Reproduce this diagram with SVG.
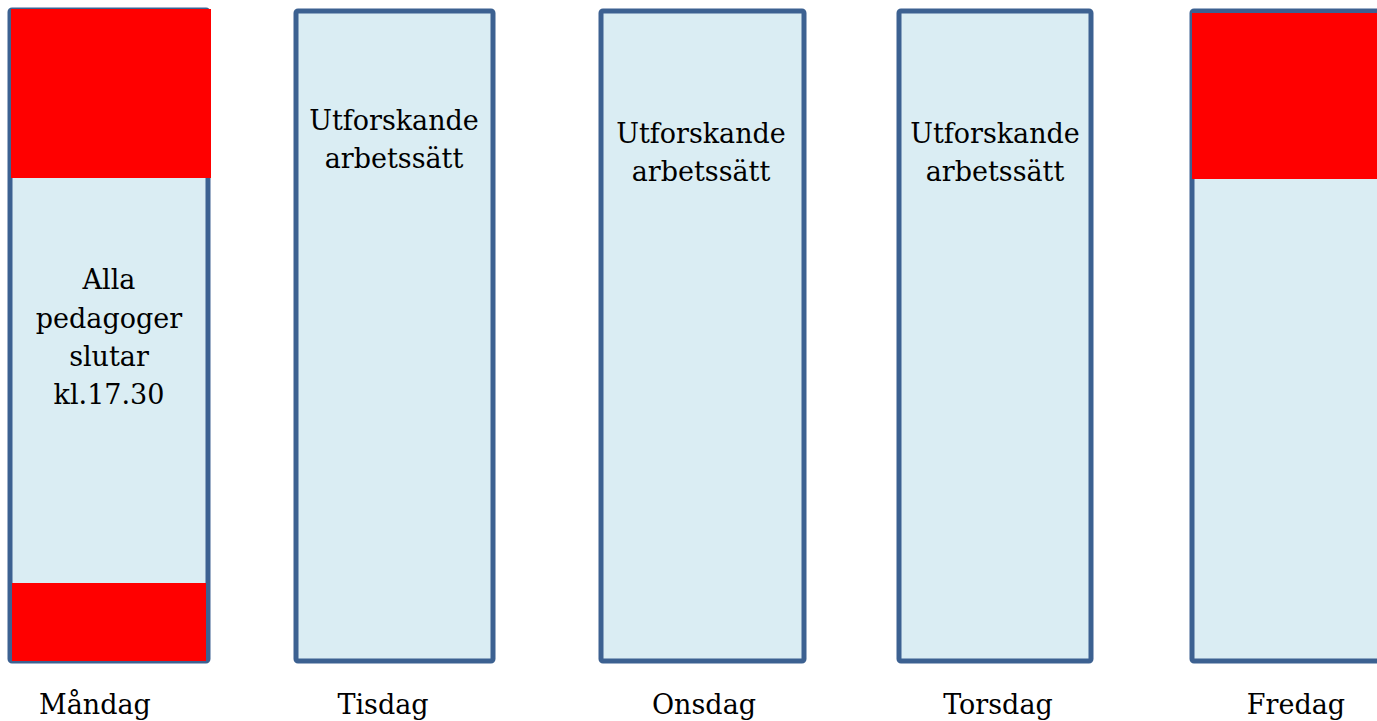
<svg xmlns="http://www.w3.org/2000/svg" width="1377" height="721" viewBox="0 0 1377 721">
<style>
.box{fill:#daedf3;stroke:#3c6191;stroke-width:5}
.red{fill:#ff0000}
text{font-family:"DejaVu Serif","Liberation Serif",serif;font-size:27px;fill:#000;text-anchor:middle}
</style>
<rect width="1377" height="721" fill="#fff"/>
<g id="mandag">
<rect class="box" x="10" y="10" width="198" height="651" rx="2"/>
<rect class="red" x="11" y="9" width="200" height="169"/>
<rect class="red" x="12" y="583" width="194" height="78"/>
<text x="109" y="289">Alla</text>
<text x="109" y="328">pedagoger</text>
<text x="109" y="366">slutar</text>
<text x="109" y="404">kl.17.30</text>
<text x="95" y="714">Måndag</text>
</g>
<g id="tisdag">
<rect class="box" x="296" y="11" width="197" height="650" rx="2"/>
<text x="394" y="130">Utforskande</text>
<text x="394" y="168">arbetssätt</text>
<text x="383" y="714">Tisdag</text>
</g>
<g id="onsdag">
<rect class="box" x="601" y="11" width="203" height="650" rx="2"/>
<text x="701" y="143">Utforskande</text>
<text x="701" y="181">arbetssätt</text>
<text x="704" y="714">Onsdag</text>
</g>
<g id="torsdag">
<rect class="box" x="899" y="11" width="192" height="650" rx="2"/>
<text x="995" y="143">Utforskande</text>
<text x="995" y="181">arbetssätt</text>
<text x="998" y="714">Torsdag</text>
</g>
<g id="fredag">
<rect class="box" x="1192" y="11" width="200" height="650" rx="2"/>
<rect class="red" x="1192" y="13" width="190" height="166"/>
<text x="1296" y="714">Fredag</text>
</g>
<g id="connectors"/>
</svg>
